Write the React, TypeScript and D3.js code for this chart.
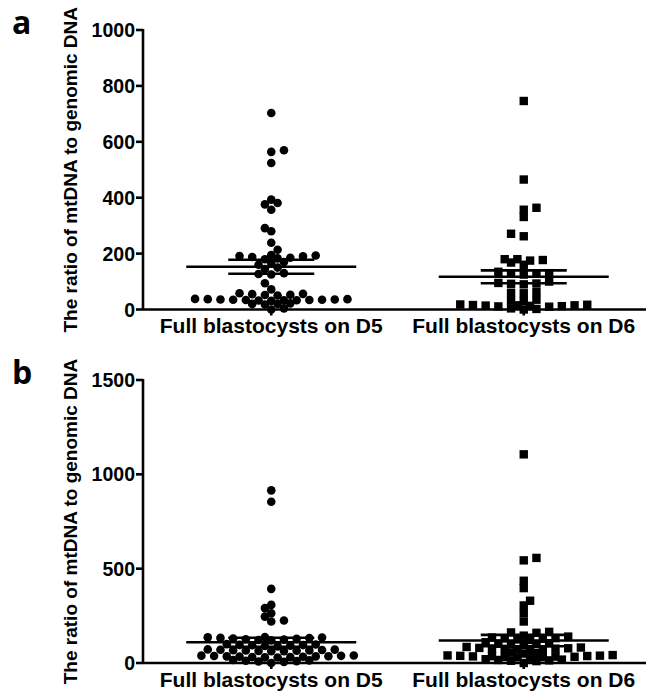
import * as d3 from 'd3'
import React, { useEffect } from 'react'

// groups on the x axis
const categories = ['Full blastocysts on D5', 'Full blastocysts on D6']

// panel a: ratio values
const aD5 = [
  703, 570, 564, 524, 393, 381, 376, 357, 291, 280, 239, 214,
  195, 193, 191, 190, 188, 185, 183, 180,
  170, 165, 160, 150, 145,
  130, 127, 125,
  94, 72,
  58, 56, 55, 53, 52, 50,
  38, 37, 37, 36, 36, 35, 35, 34, 34, 33, 33, 32, 31,
  22, 20, 20, 18,
  4, 0,
]
const aD6 = [
  746, 465, 364, 357, 331, 271, 262,
  180, 180, 177, 175, 168, 160,
  135, 130, 128, 128, 125,
  100, 95, 93, 92, 90,
  62, 60, 58,
  35, 32, 30,
  18, 17, 16, 15, 15, 14, 13, 12, 11, 10,
  4, 2, 0,
]

// panel b
const bD5 = [
  915, 855, 393, 308, 291, 264, 246, 225, 220,
  138, 136, 135, 133, 132, 130, 128, 126, 124, 122, 120,
  100, 98, 96, 95, 94, 92, 90, 88,
  72, 71, 70, 69, 68, 67, 66, 65, 64, 63, 62,
  40, 39, 38, 37, 36, 35, 35, 34, 33, 32, 31, 30, 29,
  16, 14, 12, 10, 8, 6,
  0,
]
const bD6 = [
  1106, 557, 544, 436, 397, 330, 305, 264, 220,
  165, 162, 160,
  145, 140, 135, 132, 130, 128, 125, 122,
  110, 105, 102, 100, 98, 95,
  85, 82, 80, 78, 77, 76, 75, 73, 72, 70,
  55, 52, 50,
  42, 40, 39, 38, 37, 36, 35, 34, 33, 32, 31, 30, 28,
  20, 18, 16, 14, 12, 10,
  0,
]

// mean and SEM bars as drawn (D5, D6)
const aMean = [153, 117]
const aSem = [25, 23]
const bMean = [110, 119]
const bSem = [24, 30]

const aTicks = [0, 200, 400, 600, 800, 1000]
const bTicks = [0, 500, 1000, 1500]

const W = 646
const H = 694
const font = '"Liberation Sans", Arial, sans-serif'

type Dot = { x: number; y: number }

// Prism-like column scatter: put each point as close to the centre as it fits
function swarm(values: number[], y: (v: number) => number, cx: number): Dot[] {
  const step = 6.35
  const minDist = 7
  const placed: Dot[] = []
  const sorted = [...values].sort((a, b) => a - b)
  sorted.forEach((v, i) => {
    const py = y(v)
    for (let k = 0; k < 80; k++) {
      // alternate which side is tried first so the swarm stays balanced
      const offs = k === 0 ? [0] : i % 2 ? [k * step, -k * step] : [-k * step, k * step]
      const hit = offs.find(
        (o) => !placed.some((p) => Math.hypot(p.x - (cx + o), p.y - py) < minDist)
      )
      if (hit !== undefined) {
        placed.push({ x: cx + hit, y: py })
        return
      }
    }
  })
  return placed
}

type PanelProps = {
  letter: string
  top: number
  bottom: number
  max: number
  ticks: number[]
  groups: number[][]
  means: number[]
  sems: number[]
}

const Panel = ({ letter, top, bottom, max, ticks, groups, means, sems }: PanelProps) => {
  const axisX = 143
  const y = d3.scaleLinear().domain([0, max]).range([bottom, top])
  const x = d3.scalePoint<string>().domain(categories).range([145, 650]).padding(0.5)
  const sw = 2.6

  return (
    <g>
      <text x={12} y={top + 4} fontFamily='"Open Sans", sans-serif' fontWeight={700} fontSize={32}>
        {letter}
      </text>
      <text
        transform={`translate(77,${(top + bottom) / 2}) rotate(-90)`}
        textAnchor="middle"
        fontFamily={font}
        fontWeight={700}
        fontSize={19}
      >
        The ratio of mtDNA to genomic DNA
      </text>

      {/* y axis */}
      <line x1={axisX} x2={axisX} y1={top - 1} y2={bottom} stroke="#000" strokeWidth={sw} />
      {ticks.map((t) => (
        <g key={t}>
          <line x1={axisX - 7} x2={axisX} y1={y(t)} y2={y(t)} stroke="#000" strokeWidth={sw} />
          <text
            x={axisX - 8}
            y={y(t)}
            dy="0.36em"
            textAnchor="end"
            fontFamily={font}
            fontWeight={700}
            fontSize={19.5}
          >
            {t}
          </text>
        </g>
      ))}

      {/* x axis */}
      <line x1={axisX} x2={W} y1={bottom} y2={bottom} stroke="#000" strokeWidth={sw} />
      {categories.map((c) => (
        <g key={c}>
          <line x1={x(c)} x2={x(c)} y1={bottom} y2={bottom + 6} stroke="#000" strokeWidth={sw} />
          <text
            x={x(c)}
            y={bottom + 23.5}
            textAnchor="middle"
            fontFamily={font}
            fontWeight={700}
            fontSize={21}
          >
            {c}
          </text>
        </g>
      ))}

      {/* points, then mean and SEM bars */}
      {groups.map((vals, gi) => {
        const cx = x(categories[gi]) as number
        const dots = swarm(vals, y, cx)
        return (
          <g key={gi}>
            {dots.map((d, i) =>
              gi === 0 ? (
                <circle key={i} cx={d.x} cy={d.y} r={4.3} fill="#000" />
              ) : (
                <rect key={i} x={d.x - 4.2} y={d.y - 4.2} width={8.4} height={8.4} fill="#000" />
              )
            )}
            <line x1={cx - 85} x2={cx + 85} y1={y(means[gi])} y2={y(means[gi])} stroke="#000" strokeWidth={sw} />
            {[-1, 1].map((s) => (
              <line
                key={s}
                x1={cx - 43}
                x2={cx + 43}
                y1={y(means[gi] + s * sems[gi])}
                y2={y(means[gi] + s * sems[gi])}
                stroke="#000"
                strokeWidth={sw}
              />
            ))}
          </g>
        )
      })}
    </g>
  )
}

export default function App() {
  useEffect(() => {
    document.body.style.margin = '0'
  }, [])

  return (
    <svg width={W} height={H} style={{ display: 'block', background: '#fff' }}>
      <Panel letter="a" top={30} bottom={309.5} max={1000} ticks={aTicks} groups={[aD5, aD6]} means={aMean} sems={aSem} />
      <Panel letter="b" top={380} bottom={663} max={1500} ticks={bTicks} groups={[bD5, bD6]} means={bMean} sems={bSem} />
    </svg>
  )
}
